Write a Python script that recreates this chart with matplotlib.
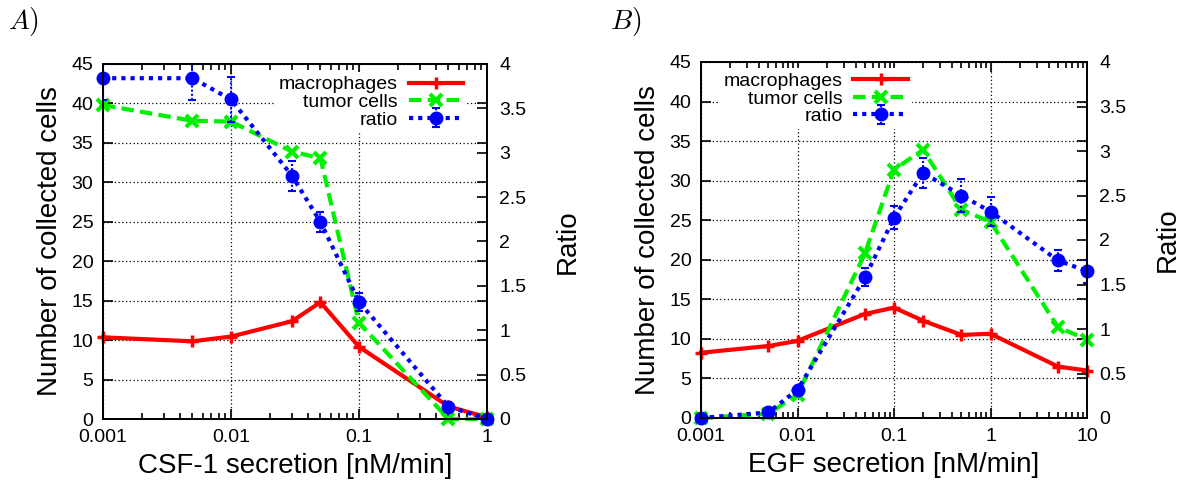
import matplotlib
matplotlib.use("Agg")
import matplotlib.pyplot as plt
from matplotlib.ticker import LogLocator, NullFormatter, FixedLocator

plt.rcParams['font.family'] = ['Liberation Sans', 'DejaVu Sans']
plt.rcParams['mathtext.fontset'] = 'cm'

# panel A: CSF-1 secretion
csf_x = [0.001, 0.005, 0.01, 0.03, 0.05, 0.1, 0.5, 1]
csf_macro = [10.35, 9.85, 10.45, 12.4, 14.8, 9.15, 1.6, 0.2]
csf_tumor = [39.8, 37.8, 37.7, 33.9, 33.05, 12.2, 0.0, 0.0]
csf_ratio = [3.84, 3.84, 3.6, 2.74, 2.22, 1.32, 0.14, 0.0]
csf_ratio_err = [0.25, 0.25, 0.25, 0.17, 0.11, 0.1, 0.05, 0.0]

# panel B: EGF secretion
egf_x = [0.001, 0.005, 0.01, 0.05, 0.1, 0.2, 0.5, 1, 5, 10]
egf_macro = [8.25, 9.1, 9.75, 13.15, 13.95, 12.3, 10.5, 10.65, 6.5, 6.0]
egf_tumor = [0.0, 0.55, 2.95, 20.8, 31.4, 33.9, 26.3, 24.8, 11.5, 9.9]
egf_ratio = [0.0, 0.063, 0.317, 1.58, 2.25, 2.755, 2.5, 2.32, 1.77, 1.65]
egf_ratio_err = [0.0, 0.02, 0.04, 0.1, 0.13, 0.17, 0.19, 0.16, 0.12, 0.13]

RED = '#ff0000'
GREEN = '#00f000'
BLUE = '#0000ff'
W, H = 1189, 488


def panel(rect, x, macro, tumor, ratio, err, xmax, xlabels, xlabel, leg_anchor):
    ax = fig.add_axes(rect)
    ax2 = ax.twinx()
    ax.set_zorder(1)
    ax2.set_zorder(2)
    ax.patch.set_visible(False)

    l1, = ax.plot(x, macro, color=RED, lw=3, ls='-', marker='+', ms=8, mew=2.5,
                  label='macrophages', clip_on=False)
    l2, = ax.plot(x, tumor, color=GREEN, lw=3, ls=(0, (3, 1.5)), marker='x', ms=8,
                  mew=3, label='tumor cells', clip_on=False)
    eb = ax2.errorbar(x, ratio, yerr=err, color=BLUE, lw=3, ls=(0, (1, 1.2)),
                      marker='o', ms=9, elinewidth=1.5, capsize=3, capthick=1.5,
                      label='ratio')
    eb[2][0].set_linestyle((0, (1, 1)))
    eb[0].set_clip_on(False)

    ax.set_xscale('log')
    ax.set_xlim(0.001, xmax)
    ax.set_ylim(0, 45)
    ax2.set_ylim(0, 4)
    ax.xaxis.set_major_locator(FixedLocator([float(v) for v in xlabels]))
    ax.set_xticklabels(xlabels)
    ax.xaxis.set_minor_locator(LogLocator(base=10, subs=range(2, 10), numticks=20))
    ax.xaxis.set_minor_formatter(NullFormatter())
    ax.set_yticks(range(0, 46, 5))
    ax2.set_yticks([i * 0.5 for i in range(9)])
    ax2.set_yticklabels(['0', '0.5', '1', '1.5', '2', '2.5', '3', '3.5', '4'])

    ax.tick_params(which='both', direction='in', top=True, right=True,
                   labelsize=14, width=1.2, colors='black')
    ax.tick_params(which='major', length=7, pad=7)
    ax.tick_params(which='minor', length=4)
    ax2.tick_params(direction='in', length=7, width=1.2, labelsize=14, pad=9)

    ax.grid(True, which='major', color='black', ls=(0, (1, 2)), lw=0.9)
    for a in (ax, ax2):
        for s in a.spines.values():
            s.set_linewidth(1.3)

    ax.set_xlabel(xlabel, fontsize=20, labelpad=5)
    ax.set_ylabel('Number of collected cells', fontsize=20, labelpad=6)
    ax2.set_ylabel('Ratio', fontsize=20, labelpad=20)

    leg = ax2.legend([l1, l2, eb], ['macrophages', 'tumor cells', 'ratio'],
                     loc='upper right', bbox_to_anchor=leg_anchor, markerfirst=False,
                     fontsize=14, handlelength=2.8, handletextpad=0.55,
                     labelspacing=0.0, borderpad=0.2, borderaxespad=0,
                     frameon=True, fancybox=False, framealpha=1)
    leg.get_frame().set_edgecolor('none')
    return ax


fig = plt.figure(figsize=(W / 100, H / 100), dpi=100)

panel([103 / W, 1 - 419 / H, 384 / W, 355 / H], csf_x, csf_macro, csf_tumor,
      csf_ratio, csf_ratio_err, 1, ['0.001', '0.01', '0.1', '1'],
      'CSF-1 secretion [nM/min]', (0.948, 0.978))
panel([701 / W, 1 - 418 / H, 386 / W, 356 / H], egf_x, egf_macro, egf_tumor,
      egf_ratio, egf_ratio_err, 10, ['0.001', '0.01', '0.1', '1', '10'],
      'EGF secretion [nM/min]', (0.546, 0.982))

fig.text(8 / W, 1 - 22 / H, r'$A)$', fontsize=20, va='center', ha='left')
fig.text(610 / W, 1 - 22 / H, r'$B)$', fontsize=20, va='center', ha='left')

fig.savefig('out.png', dpi=100)
